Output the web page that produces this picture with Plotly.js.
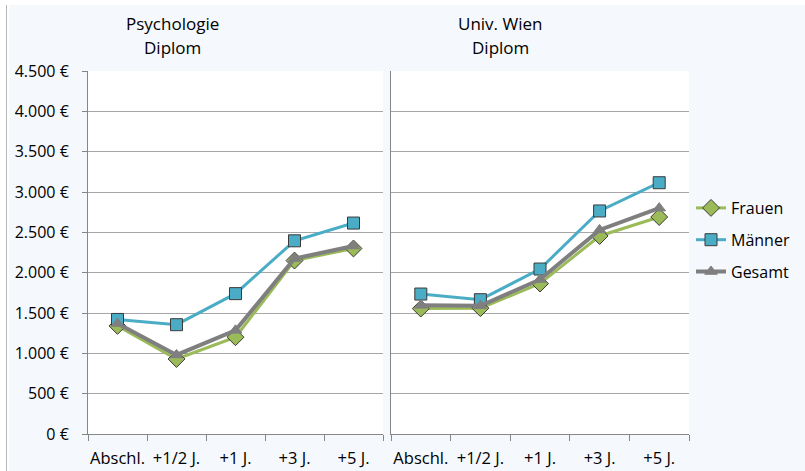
<!DOCTYPE html>
<html>
<head>
<meta charset="utf-8">
<script src="https://cdn.plot.ly/plotly-3.0.1.min.js"></script>
<style>
  html, body { margin: 0; padding: 0; background: #ffffff; width: 805px; height: 471px; overflow: hidden; }
  #edge { position: absolute; left: 6px; top: 5px; width: 1px; height: 466px; background: #b8b8b8; }
  #chart { position: absolute; left: 9px; top: 5px; width: 796px; height: 466px; }
</style>
</head>
<body>
<div id="edge"></div>
<div id="chart"></div>
<script>
// ---- data ----
const categories = ["Abschl.", "+1/2 J.", "+1 J.", "+3 J.", "+5 J."];
const panelTitles = [["Psychologie", "Diplom"], ["Univ. Wien", "Diplom"]];
const seriesNames = ["Frauen", "Männer", "Gesamt"];

const psyFrauen = [1340, 930, 1200, 2150, 2300];
const psyMaenner = [1420, 1355, 1740, 2395, 2615];
const psyGesamt = [1370, 980, 1285, 2175, 2330];

const wienFrauen = [1555, 1560, 1865, 2455, 2690];
const wienMaenner = [1735, 1665, 2045, 2765, 3115];
const wienGesamt = [1595, 1590, 1915, 2530, 2800];

const yTickVals = [0, 500, 1000, 1500, 2000, 2500, 3000, 3500, 4000, 4500];
const yTickText = ["0 €", "500 €", "1.000 €", "1.500 €", "2.000 €", "2.500 €", "3.000 €", "3.500 €", "4.000 €", "4.500 €"];

// ---- styles ----
const colors = { Frauen: "#9BBB59", "Männer": "#4BACC6", Gesamt: "#7F7F7F" };
const symbols = { Frauen: "diamond", "Männer": "square", Gesamt: "triangle-up" };
const sizes = { Frauen: 13, "Männer": 12, Gesamt: 11 };
const lineW = { Frauen: 3, "Männer": 3, Gesamt: 4 };
const font = "'Open Sans', 'Noto Sans', sans-serif";

function mk(name, vals, xa, ya, show) {
  return {
    type: "scatter", mode: "lines+markers", name: name,
    x: categories, y: vals, xaxis: xa, yaxis: ya,
    showlegend: show, legendgroup: name,
    line: { color: colors[name], width: lineW[name] },
    marker: { symbol: symbols[name], size: sizes[name], color: colors[name],
              line: { color: name === "Gesamt" ? colors[name] : "#3a3a3a", width: 1 } },
    hoverinfo: "skip"
  };
}

const data = [
  mk("Frauen", psyFrauen, "x", "y", true),
  mk("Männer", psyMaenner, "x", "y", true),
  mk("Gesamt", psyGesamt, "x", "y", true),
  mk("Frauen", wienFrauen, "x2", "y2", false),
  mk("Männer", wienMaenner, "x2", "y2", false),
  mk("Gesamt", wienGesamt, "x2", "y2", false)
];

const xCommon = {
  type: "category", range: [-0.5, 4.5], tickson: "boundaries",
  ticks: "outside", ticklen: 6, tickcolor: "#868686", tickangle: 0,
  showline: true, linecolor: "#868686", linewidth: 1,
  showgrid: false, zeroline: false, ticklabelstandoff: 9,
  tickfont: { family: font, size: 16.5, color: "#000" }, fixedrange: true
};
const yCommon = {
  range: [0, 4500], tickvals: yTickVals, ticktext: yTickText,
  showgrid: true, gridcolor: "#A6A6A6", gridwidth: 1,
  showline: true, linecolor: "#868686", linewidth: 1,
  zeroline: false, fixedrange: true,
  tickfont: { family: font, size: 16, color: "#000" }
};

const titleAnn = [];
[163, 491].forEach(function (cx, i) {
  [18, 43].forEach(function (cy, j) {
    titleAnn.push({ text: panelTitles[i][j], xref: "paper", yref: "paper",
      x: cx / 796, y: 1 - cy / 466, showarrow: false, xanchor: "center", yanchor: "middle",
      font: { family: font, size: 17, color: "#000" } });
  });
});

const layout = {
  width: 796, height: 466,
  margin: { l: 0, r: 0, t: 0, b: 0, pad: 0 },
  paper_bgcolor: "#F5F8FD", plot_bgcolor: "#FFFFFF",
  font: { family: font, color: "#000" },
  xaxis: Object.assign({}, xCommon, { domain: [79 / 796, 374 / 796], anchor: "y" }),
  yaxis: Object.assign({}, yCommon, { domain: [1 - 429 / 466, 1 - 66 / 466], anchor: "x", ticks: "outside", ticklen: 5, tickcolor: "#868686", ticklabelstandoff: 10 }),
  xaxis2: Object.assign({}, xCommon, { domain: [382 / 796, 680 / 796], anchor: "y2" }),
  yaxis2: Object.assign({}, yCommon, { domain: [1 - 429 / 466, 1 - 66 / 466], anchor: "x2", showticklabels: false, ticks: "" }),
  showlegend: true,
  legend: {
    x: 682 / 796, y: 1 - 186 / 466, xanchor: "left", yanchor: "top",
    bgcolor: "rgba(0,0,0,0)", traceorder: "grouped", tracegroupgap: 8,
    font: { family: font, size: 16, color: "#000" }
  },
  annotations: titleAnn
};

Plotly.newPlot("chart", data, layout, { displayModeBar: false, staticPlot: true });
</script>
</body>
</html>
